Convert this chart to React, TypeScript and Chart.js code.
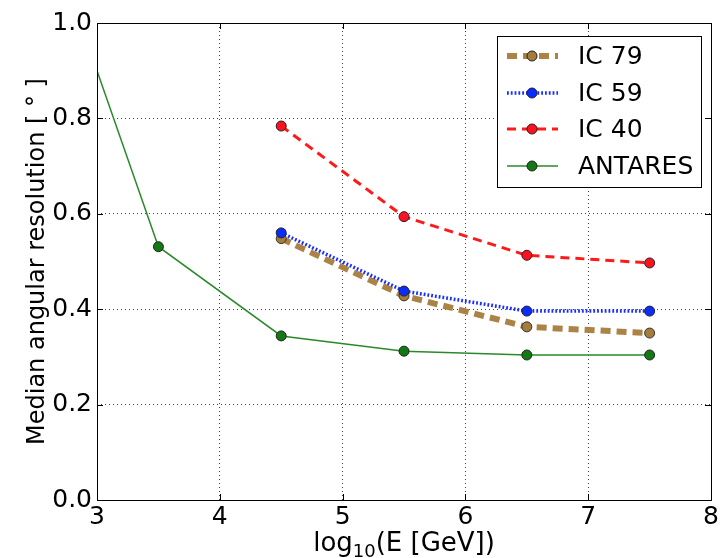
import React, { useEffect, useRef } from 'react';
import { Chart, registerables } from 'chart.js';

Chart.register(...registerables);

// ---- data ----
const energyAntares = [3.0, 3.5, 4.5, 5.5, 6.5, 7.5];
const resAntares = [0.9, 0.531, 0.344, 0.312, 0.304, 0.304];
const energyIC = [4.5, 5.5, 6.5, 7.5];
const resIC79 = [0.548, 0.428, 0.363, 0.350];
const resIC59 = [0.560, 0.438, 0.396, 0.396];
const resIC40 = [0.784, 0.594, 0.513, 0.497];
const seriesNames = ['IC 79', 'IC 59', 'IC 40', 'ANTARES'];
const xTickValues = [3, 4, 5, 6, 7, 8];
const yTickValues = [0.0, 0.2, 0.4, 0.6, 0.8, 1.0];
const yTitle = 'Median angular resolution [ ° ]';
const xTitleParts = ['log', '10', '(E [GeV])'];

const FONT = 'DejaVu Sans';

const toPoints = (xs: number[], ys: number[]) => xs.map((x, i) => ({ x, y: ys[i] }));

const framePlugin = {
  id: 'framePlugin',
  afterDraw(chart: any) {
    const { ctx, chartArea } = chart;
    const { left, right, top, bottom } = chartArea;
    const xs = chart.scales.x;
    const ys = chart.scales.y;
    ctx.save();
    // frame
    ctx.strokeStyle = '#000';
    ctx.lineWidth = 1;
    ctx.setLineDash([]);
    ctx.strokeRect(Math.round(left) + 0.5, Math.round(top) + 0.5, Math.round(right - left), Math.round(bottom - top));
    // inward ticks
    const tl = 6;
    ctx.beginPath();
    xTickValues.forEach((v) => {
      const px = Math.round(xs.getPixelForValue(v)) + 0.5;
      ctx.moveTo(px, bottom);
      ctx.lineTo(px, bottom - tl);
      ctx.moveTo(px, top);
      ctx.lineTo(px, top + tl);
    });
    yTickValues.forEach((v) => {
      const py = Math.round(ys.getPixelForValue(v)) + 0.5;
      ctx.moveTo(left, py);
      ctx.lineTo(left + tl, py);
      ctx.moveTo(right, py);
      ctx.lineTo(right - tl, py);
    });
    ctx.stroke();

    // y title
    ctx.save();
    ctx.translate(35, (top + bottom) / 2);
    ctx.rotate(-Math.PI / 2);
    ctx.font = `24px "${FONT}"`;
    ctx.fillStyle = '#000';
    ctx.textAlign = 'center';
    ctx.textBaseline = 'alphabetic';
    ctx.fillText(yTitle, 0, 9);
    ctx.restore();

    // x title with subscript
    const bigFont = `26px "${FONT}"`;
    const smallFont = `18px "${FONT}"`;
    ctx.fillStyle = '#000';
    ctx.textBaseline = 'alphabetic';
    ctx.textAlign = 'left';
    ctx.font = bigFont;
    const w1 = ctx.measureText(xTitleParts[0]).width;
    const w3 = ctx.measureText(xTitleParts[2]).width;
    ctx.font = smallFont;
    const w2 = ctx.measureText(xTitleParts[1]).width;
    const total = w1 + w2 + w3;
    let cx = (left + right) / 2 - total / 2;
    const baseY = 551;
    ctx.font = bigFont;
    ctx.fillText(xTitleParts[0], cx, baseY);
    cx += w1;
    ctx.font = smallFont;
    ctx.fillText(xTitleParts[1], cx, baseY + 6);
    cx += w2;
    ctx.font = bigFont;
    ctx.fillText(xTitleParts[2], cx, baseY);

    // legend
    const bx = 497, by = 36, bw = 204, bh = 151;
    ctx.fillStyle = '#fff';
    ctx.fillRect(bx, by, bw, bh);
    ctx.strokeStyle = '#000';
    ctx.lineWidth = 1;
    ctx.strokeRect(bx + 0.5, by + 0.5, bw, bh);
    const rows = [56, 93, 129, 166];
    chart.data.datasets.forEach((ds: any, i: number) => {
      const y = rows[i];
      ctx.save();
      ctx.strokeStyle = ds.borderColor;
      ctx.lineWidth = ds.borderWidth;
      ctx.setLineDash(ds.borderDash || []);
      ctx.beginPath();
      ctx.moveTo(507, y);
      ctx.lineTo(558, y);
      ctx.stroke();
      ctx.setLineDash([]);
      ctx.beginPath();
      ctx.arc(532, y, 5, 0, Math.PI * 2);
      ctx.fillStyle = ds.pointBackgroundColor;
      ctx.fill();
      ctx.lineWidth = 1;
      ctx.strokeStyle = '#222';
      ctx.stroke();
      ctx.restore();
      ctx.fillStyle = '#000';
      ctx.font = `25px "${FONT}"`;
      ctx.textBaseline = 'middle';
      ctx.textAlign = 'left';
      ctx.fillText(ds.label, 578, y + 1);
    });
    ctx.restore();
  },
};

export default function App() {
  const canvasRef = useRef<HTMLCanvasElement | null>(null);

  useEffect(() => {
    const canvas = canvasRef.current;
    if (!canvas) return;
    const chart = new Chart(canvas, {
      type: 'line',
      data: {
        datasets: [
          {
            label: seriesNames[0],
            data: toPoints(energyIC, resIC79),
            borderColor: 'rgba(166,124,59,0.95)',
            borderWidth: 6,
            borderDash: [10, 6],
            pointBackgroundColor: '#a67c3b',
            pointBorderColor: '#333',
            pointBorderWidth: 1,
            pointRadius: 5,
            order: 4,
          },
          {
            label: seriesNames[1],
            data: toPoints(energyIC, resIC59),
            borderColor: '#1a2bff',
            borderWidth: 3.5,
            borderDash: [1.8, 2],
            pointBackgroundColor: '#0a2cff',
            pointBorderColor: '#222',
            pointBorderWidth: 1,
            pointRadius: 5,
            order: 3,
          },
          {
            label: seriesNames[2],
            data: toPoints(energyIC, resIC40),
            borderColor: '#ff1a1a',
            borderWidth: 3,
            borderDash: [9, 6],
            pointBackgroundColor: '#ff1020',
            pointBorderColor: '#222',
            pointBorderWidth: 1,
            pointRadius: 5,
            order: 2,
          },
          {
            label: seriesNames[3],
            data: toPoints(energyAntares, resAntares),
            borderColor: '#2a8a2a',
            borderWidth: 1.5,
            borderDash: [],
            pointBackgroundColor: '#137a13',
            pointBorderColor: '#222',
            pointBorderWidth: 1,
            pointRadius: energyAntares.map((v) => (v <= 3 ? 0 : 5)),
            order: 1,
          },
        ],
      },
      options: {
        animation: false,
        responsive: false,
        maintainAspectRatio: false,
        devicePixelRatio: 1,
        layout: { padding: { top: 23, right: 9, left: 0, bottom: 0 } },
        plugins: {
          legend: { display: false },
          tooltip: { enabled: false },
          title: { display: false },
        },
        elements: { line: { tension: 0 } },
        scales: {
          x: {
            type: 'linear',
            min: 3,
            max: 8,
            afterBuildTicks: (s: any) => {
              s.ticks = xTickValues.map((v) => ({ value: v }));
            },
            afterFit: (s: any) => {
              s.height = 58;
            },
            ticks: {
              color: '#000',
              font: { family: FONT, size: 25 },
              padding: 2,
              maxRotation: 0,
              callback: (v: any) => String(v),
            },
            grid: { color: 'rgba(0,0,0,0.75)', lineWidth: 1, drawTicks: false },
            border: { display: false, dash: [1, 3] },
            title: { display: false },
          },
          y: {
            type: 'linear',
            min: 0,
            max: 1,
            afterBuildTicks: (s: any) => {
              s.ticks = yTickValues.map((v) => ({ value: v }));
            },
            afterFit: (s: any) => {
              s.width = 97;
            },
            ticks: {
              color: '#000',
              font: { family: FONT, size: 25 },
              padding: 5,
              callback: (v: any) => Number(v).toFixed(1),
            },
            grid: { color: 'rgba(0,0,0,0.75)', lineWidth: 1, drawTicks: false },
            border: { display: false, dash: [1, 3] },
            title: { display: false },
          },
        },
      },
      plugins: [framePlugin],
    } as any);
    return () => chart.destroy();
  }, []);

  return (
    <div style={{ position: 'absolute', left: 0, top: 0, width: 721, height: 558, background: '#fff' }}>
      <canvas ref={canvasRef} width={721} height={558} />
    </div>
  );
}
